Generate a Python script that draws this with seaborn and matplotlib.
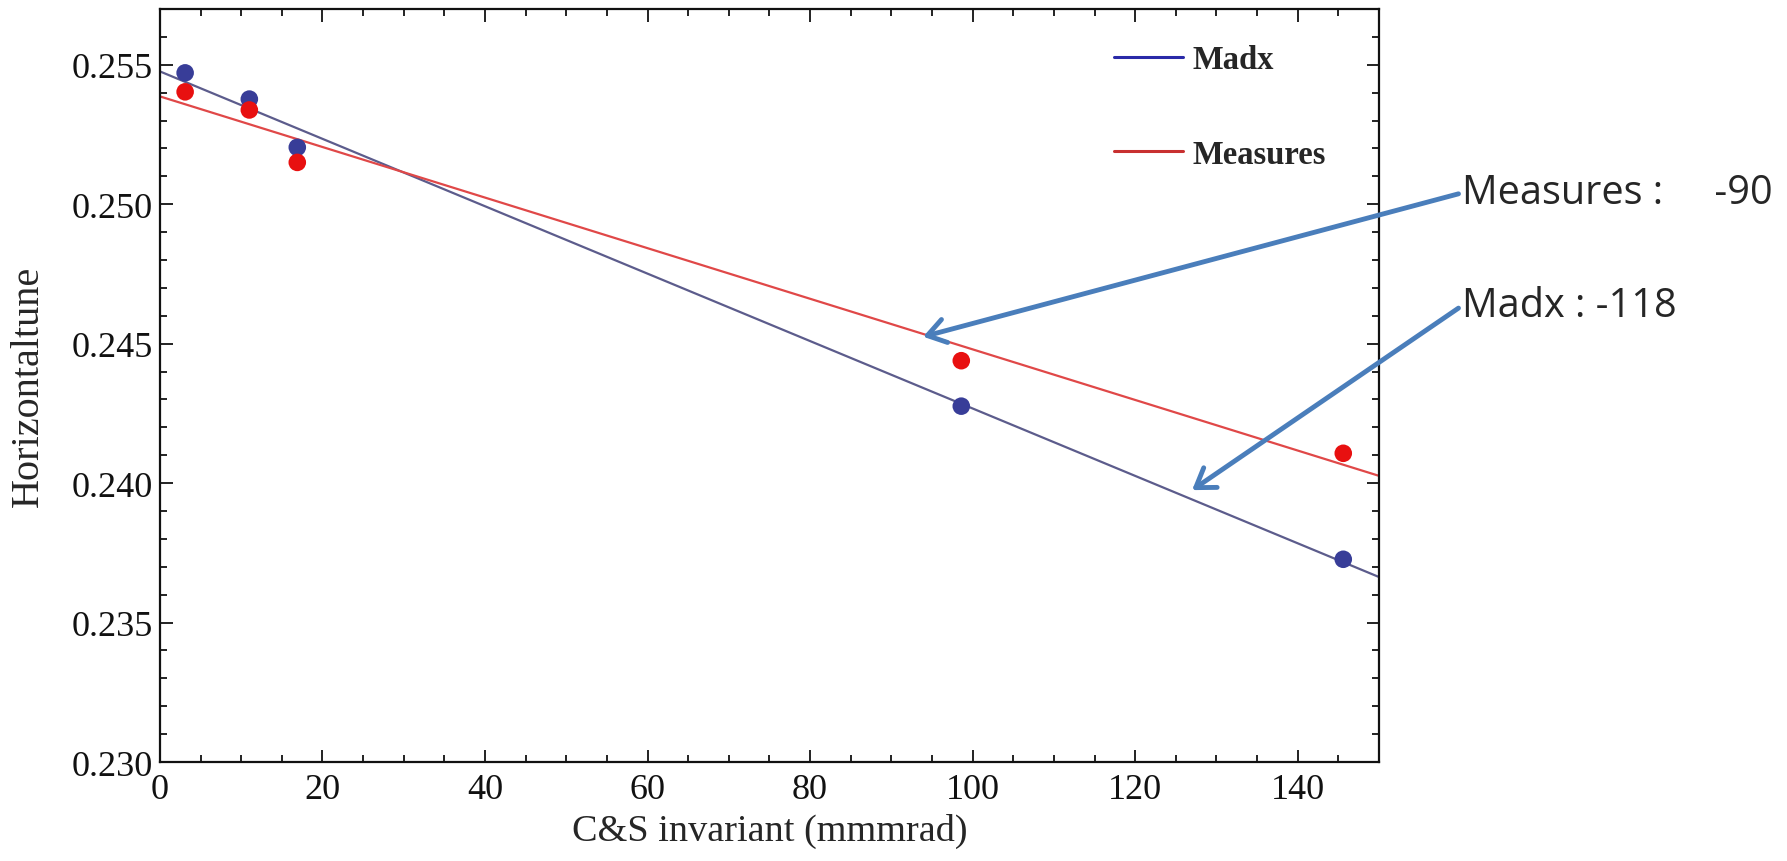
import numpy as np
import pandas as pd
import matplotlib
matplotlib.use('Agg')
import matplotlib.pyplot as plt
from matplotlib.ticker import MultipleLocator, FormatStrFormatter
from matplotlib.lines import Line2D
import seaborn as sns

# Data
invariant = [3.1, 11.0, 16.9, 98.6, 145.6]
tune_madx = [0.25471, 0.25377, 0.25204, 0.24276, 0.23727]
tune_measures = [0.25403, 0.25338, 0.25150, 0.24439, 0.24107]
series_names = ['Madx', 'Measures']
slope_labels = ['Measures :     -90', 'Madx : -118']

sns.set_style('ticks')
plt.rcParams['font.family'] = ['Liberation Serif', 'DejaVu Serif']

XMIN, XMAX = 0, 150
YMIN, YMAX = 0.230, 0.257

fig = plt.figure(figsize=(17.87, 8.62), dpi=100)
ax = fig.add_axes([0.0895, 0.1148, 0.6822, 0.8736])

pts = pd.DataFrame({
    'x': invariant * 2,
    'y': tune_madx + tune_measures,
    'src': [series_names[0]] * len(invariant) + [series_names[1]] * len(invariant),
})

# Linear fits
xfit = np.linspace(XMIN, XMAX, 2)
fits = []
for name, ys in zip(series_names, [tune_madx, tune_measures]):
    k, b = np.polyfit(invariant, ys, 1)
    fits.append(pd.DataFrame({'x': xfit, 'y': k * xfit + b, 'src': name}))
fits = pd.concat(fits)

line_colors = {'Madx': '#5c5c8c', 'Measures': '#e04848'}
dot_colors = {'Madx': '#383d98', 'Measures': '#e81010'}

sns.lineplot(data=fits, x='x', y='y', hue='src', palette=line_colors, lw=1.6,
             legend=False, ax=ax)
sns.scatterplot(data=pts, x='x', y='y', hue='src', palette=dot_colors, s=160,
                edgecolor='none', legend=False, ax=ax, zorder=3)

ax.set_xlim(XMIN, XMAX)
ax.set_ylim(YMIN, YMAX)
ax.xaxis.set_major_locator(MultipleLocator(20))
ax.xaxis.set_minor_locator(MultipleLocator(5))
ax.yaxis.set_major_locator(MultipleLocator(0.005))
ax.yaxis.set_minor_locator(MultipleLocator(0.001))
ax.yaxis.set_major_formatter(FormatStrFormatter('%.3f'))
ax.tick_params(which='both', direction='in', top=True, right=True, width=1.3,
               labelsize=26, colors='#111111')
ax.tick_params(axis='x', pad=8)
ax.tick_params(axis='y', pad=5)
ax.tick_params(which='major', length=9)
ax.tick_params(which='minor', length=5)
for sp in ax.spines.values():
    sp.set_visible(True)
    sp.set_linewidth(1.6)
    sp.set_color('#111111')

ax.set_xlabel('C&S invariant (mmmrad)', fontsize=27.5, labelpad=5)
ax.set_ylabel('Horizontaltune', fontsize=29, labelpad=18)

# legend: lines only
handles = [Line2D([], [], color='#2a2aa8', lw=2.2), Line2D([], [], color='#c83030', lw=2.2)]
ax.legend(handles, series_names, loc='upper left', bbox_to_anchor=(0.783, 0.953),
          frameon=False, borderpad=0, borderaxespad=0, handlelength=2.1,
          handletextpad=0.3, labelspacing=1.94, prop={'weight': 'bold', 'size': 23.5})

# slope annotations with arrows
arrow_tips = [(93.9, 0.24525), (127.0, 0.23975)]
text_pos = [(0.818, 0.775), (0.818, 0.644)]
for lab, tip, pos in zip(slope_labels, arrow_tips, text_pos):
    ax.annotate(lab, xy=tip, xycoords='data', xytext=pos, textcoords='figure fraction',
                ha='left', va='center', fontsize=28.5, family=['Open Sans', 'DejaVu Sans'],
                annotation_clip=False,
                arrowprops=dict(arrowstyle='->,head_length=0.45,head_width=0.3',
                                color='#4a7ebb', lw=3.5, relpos=(0, 0.5),
                                shrinkA=0, shrinkB=0))

fig.savefig('out.png', dpi=100)
